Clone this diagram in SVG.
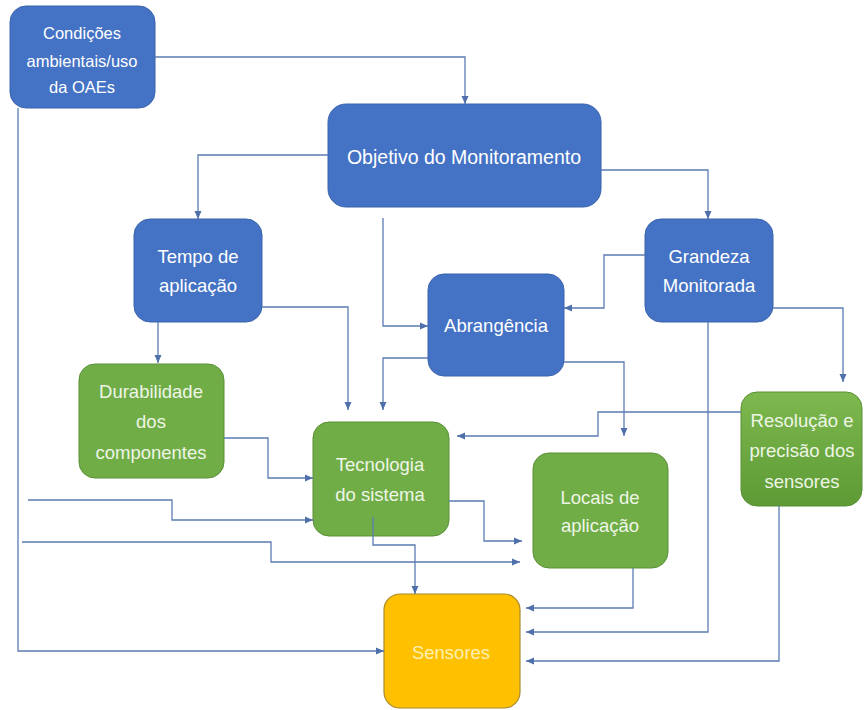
<svg xmlns="http://www.w3.org/2000/svg" width="865" height="710" viewBox="0 0 865 710">
<style>
.blue{fill:#4472C4;stroke:#3B63AB;stroke-width:1}
.green{fill:#70AD47;stroke:#5A8F36;stroke-width:1}
.yellow{fill:#FFC000;stroke:#A88A2A;stroke-width:1.2}
text{font-family:"Liberation Sans",Arial,sans-serif;font-size:18.5px;text-anchor:middle}
.tb{fill:#FFFFFF}
.tg{fill:#EEF5E6}
.ty{fill:#FFF0B0}
.c{fill:none;stroke:#5B7CB4;stroke-width:1.3;marker-end:url(#ah)}
.cn{fill:none;stroke:#5B7CB4;stroke-width:1.3}
</style>
<defs>
<marker id="ah" markerUnits="userSpaceOnUse" markerWidth="9" markerHeight="8" refX="8" refY="4" orient="auto">
<path d="M0,0.5 L8,4 L0,7.5 Z" fill="#4F70AB"/>
</marker>
<linearGradient id="gres" x1="0" y1="0" x2="0" y2="1">
<stop offset="0" stop-color="#7DB94E"/>
<stop offset="1" stop-color="#5E9A35"/>
</linearGradient>
</defs>
<rect width="865" height="710" fill="#FFFFFF"/>

<g id="condicoes">
<rect class="blue" x="10" y="6" width="145" height="102" rx="16"/>
<text class="tb" x="82" y="38.5" style="font-size:16.5px">Condições</text>
<text class="tb" x="82" y="66.5" style="font-size:16.5px">ambientais/uso</text>
<text class="tb" x="82" y="92.5" style="font-size:16.5px">da OAEs</text>
</g>
<g id="objetivo">
<rect class="blue" x="328" y="104" width="273" height="103" rx="18"/>
<text class="tb" x="464" y="163.5" style="font-size:19.5px">Objetivo do Monitoramento</text>
</g>
<g id="tempo">
<rect class="blue" x="134" y="219" width="128" height="103" rx="16"/>
<text class="tb" x="198" y="262.5">Tempo de</text>
<text class="tb" x="198" y="292">aplicação</text>
</g>
<g id="abrangencia">
<rect class="blue" x="428" y="274" width="136" height="102" rx="16"/>
<text class="tb" x="496" y="331.5">Abrangência</text>
</g>
<g id="grandeza">
<rect class="blue" x="645" y="219" width="128" height="103" rx="16"/>
<text class="tb" x="709" y="263">Grandeza</text>
<text class="tb" x="709" y="292">Monitorada</text>
</g>
<g id="durabilidade">
<rect class="green" x="79" y="364" width="145" height="114" rx="16"/>
<text class="tg" x="151" y="398">Durabilidade</text>
<text class="tg" x="151" y="428">dos</text>
<text class="tg" x="151" y="458.5">componentes</text>
</g>
<g id="tecnologia">
<rect class="green" x="313" y="422" width="136" height="114" rx="16"/>
<text class="tg" x="380" y="471">Tecnologia</text>
<text class="tg" x="380" y="501">do sistema</text>
</g>
<g id="locais">
<rect class="green" x="533" y="453" width="135" height="115" rx="16"/>
<text class="tg" x="600" y="504">Locais de</text>
<text class="tg" x="600" y="532">aplicação</text>
</g>
<g id="resolucao">
<rect x="741" y="392" width="121" height="114" rx="16" fill="url(#gres)" stroke="#5A8F36" stroke-width="1"/>
<text class="tg" x="802" y="427">Resolução e</text>
<text class="tg" x="802" y="457">precisão dos</text>
<text class="tg" x="802" y="487.5">sensores</text>
</g>
<g id="sensores">
<rect class="yellow" x="384" y="594" width="136" height="114" rx="16"/>
<text class="ty" x="451" y="658.5">Sensores</text>
</g>

<g id="connectors">
<path class="c" d="M155,57 H465 V104"/>
<path class="c" d="M18,108 V651 H384"/>
<path class="c" d="M328,155 H198 V219"/>
<path class="c" d="M601,170 H708 V219"/>
<path class="c" d="M383,218 V326 H428"/>
<path class="c" d="M645,255 H604 V308 H564"/>
<path class="c" d="M773,308 H843 V382"/>
<path class="c" d="M708,322 V632 H526"/>
<path class="c" d="M633,568 V608 H526"/>
<path class="c" d="M779,506 V661 H526"/>
<path class="c" d="M741,412 H598 V436 H457"/>
<path class="c" d="M564,362 H624 V436"/>
<path class="c" d="M428,358 H383 V410"/>
<path class="c" d="M262,307 H348 V410"/>
<path class="c" d="M158,322 V363"/>
<path class="c" d="M224,438 H268 V478 H313"/>
<path class="c" d="M28,500 H172 V520 H313"/>
<path class="c" d="M22,542 H271 V562 H520"/>
<path class="c" d="M449,501 H484 V541 H522"/>
<path class="c" d="M373,517 V545 H415 V594"/>
</g>
</svg>
